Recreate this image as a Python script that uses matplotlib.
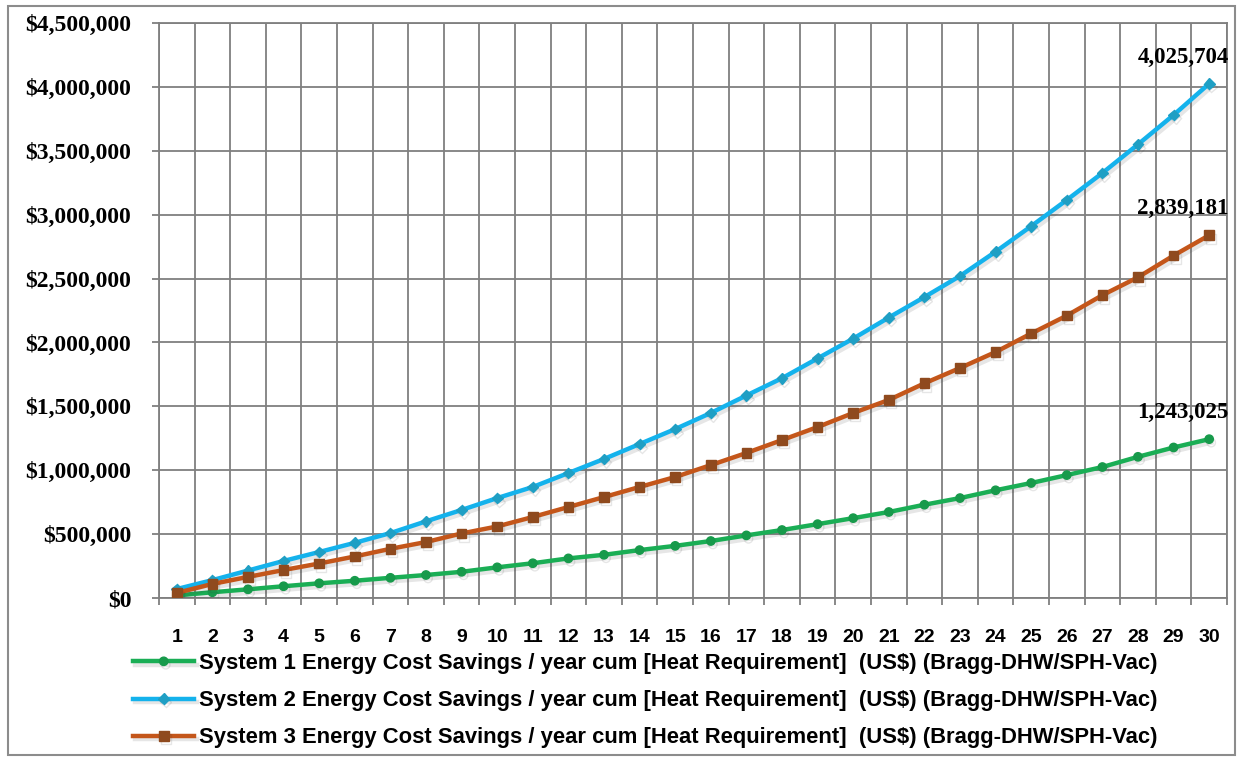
import matplotlib
matplotlib.use('Agg')
import matplotlib.pyplot as plt
from matplotlib.patches import Rectangle
from matplotlib.ticker import FuncFormatter, MultipleLocator, FixedLocator
import matplotlib.patheffects as pe

plt.rcParams['font.family'] = ['Liberation Sans', 'DejaVu Sans']

# data (US$, cumulative)
years = list(range(1, 31))
system1 = [20000, 45000, 68000, 92000, 115000, 135000, 158000, 180000, 205000, 240000,
           272000, 310000, 338000, 375000, 408000, 446000, 490000, 532000, 578000, 625000,
           673000, 730000, 782000, 843000, 900000, 962000, 1025000, 1105000, 1178000, 1243025]
system2 = [70000, 140000, 215000, 290000, 360000, 432000, 508000, 600000, 689000, 782000,
           869000, 978000, 1088000, 1205000, 1322000, 1448000, 1585000, 1720000, 1875000, 2030000,
           2195000, 2355000, 2520000, 2710000, 2910000, 3115000, 3326000, 3550000, 3780000, 4025704]
system3 = [40000, 110000, 165000, 219000, 270000, 325000, 385000, 438000, 505000, 560000,
           634000, 712000, 790000, 869000, 947000, 1040000, 1135000, 1236000, 1338000, 1448000,
           1550000, 1680000, 1800000, 1925000, 2070000, 2210000, 2370000, 2510000, 2680000, 2839181]
labels = ['System 1 Energy Cost Savings / year cum [Heat Requirement]  (US$) (Bragg-DHW/SPH-Vac)',
          'System 2 Energy Cost Savings / year cum [Heat Requirement]  (US$) (Bragg-DHW/SPH-Vac)',
          'System 3 Energy Cost Savings / year cum [Heat Requirement]  (US$) (Bragg-DHW/SPH-Vac)']

fig = plt.figure(figsize=(12.38, 7.58), dpi=100)
ax = fig.add_axes([159 / 1238, 1 - 598 / 758, (1227 - 159) / 1238, (598 - 23) / 758])

# outer chart border
fig.patches.append(Rectangle((8 / 1238, 1 - 755 / 758), (1235 - 8) / 1238, (755 - 6) / 758,
                             transform=fig.transFigure, fill=False, edgecolor='#8c8c8c', lw=1.5))

shadow = [pe.SimpleLineShadow(offset=(1.5, -2.5), alpha=0.12, shadow_color='#333333'), pe.Normal()]
l1, = ax.plot(years, system1, color='#1AAE55', lw=3.2, marker='o', ms=6,
              mfc='#179a4b', mec='#179a4b', path_effects=shadow, zorder=5)
l2, = ax.plot(years, system2, color='#14B2EC', lw=3.2, marker='D', ms=5.5,
              mfc='#1f9fc4', mec='#1f9fc4', path_effects=shadow, zorder=5)
l3, = ax.plot(years, system3, color='#C4561A', lw=3.2, marker='s', ms=7,
              mfc='#8f4a1e', mec='#8f4a1e', path_effects=shadow, zorder=5)

ax.set_xlim(0.5, 30.5)
ax.set_ylim(0, 4500000)
ax.yaxis.set_major_locator(MultipleLocator(500000))
ax.yaxis.set_major_formatter(FuncFormatter(lambda v, p: '${:,.0f}'.format(v)))
ax.xaxis.set_major_locator(FixedLocator(years))
ax.xaxis.set_minor_locator(FixedLocator([y + 0.5 for y in range(0, 31)]))

ax.grid(True, which='major', axis='y', color='#7f7f7f', lw=1.3)
ax.grid(True, which='minor', axis='x', color='#7f7f7f', lw=1.3)
ax.set_axisbelow(True)
for s in ax.spines.values():
    s.set_color('#7f7f7f')
    s.set_linewidth(1.3)

ax.tick_params(axis='x', which='major', length=0, pad=22, labelsize=14)
ax.tick_params(axis='x', which='minor', length=5, color='#7f7f7f', width=1.3)
ax.tick_params(axis='y', which='major', length=5, color='#7f7f7f', width=1.3, pad=15)
for t in ax.get_xticklabels():
    t.set_fontweight('bold')
for t in ax.get_yticklabels():
    t.set_family('Liberation Serif')
    t.set_fontweight('bold')
    t.set_fontsize(17)

# end value labels
for series in (system1, system2, system3):
    ax.annotate('{:,}'.format(series[-1]), xy=(years[-1], series[-1]), xytext=(14, 19),
                textcoords='offset points', ha='right', va='center',
                fontsize=16.5, fontweight='bold', family='Liberation Serif')

leg = ax.legend([l1, l2, l3], labels, loc='upper left', bbox_to_anchor=(133 / 1238, 1 - 653 / 758),
                bbox_transform=fig.transFigure, frameon=False, handlelength=2.8,
                handletextpad=0.2, labelspacing=0.74, borderaxespad=0, borderpad=0,
                prop={'family': 'Liberation Sans', 'weight': 'bold', 'size': 15.8})

plt.savefig('out.png', dpi=100)
